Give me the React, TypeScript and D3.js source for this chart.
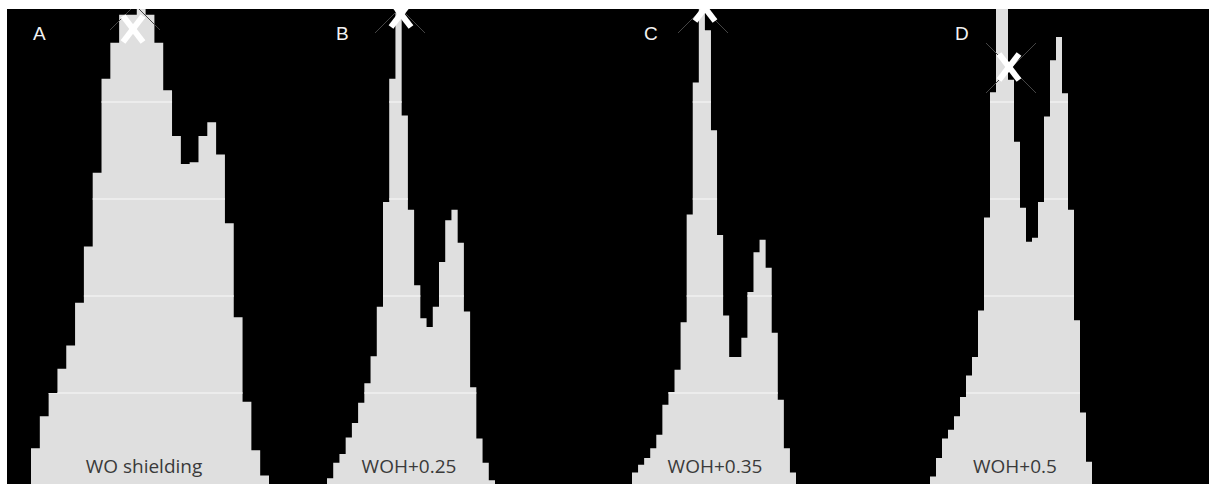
import React from "react";
import * as d3 from "d3";

// histogram heights per bin (frequency, same 27 bins in every panel)
const binsA = [4.3, 7.6, 10.0, 12.5, 14.9, 19.3, 25.1, 32.7, 42.4, 46.1, 49.0, 49.0, 51.0, 49.0, 46.1, 41.2, 36.5, 33.6, 33.8, 36.5, 37.9, 34.6, 27.5, 17.8, 9.1, 4.1, 1.5];
const binsB = [1.2, 2.8, 3.7, 5.4, 6.9, 9.0, 11.0, 13.8, 18.9, 29.7, 42.4, 58.0, 38.6, 28.9, 21.1, 17.7, 16.8, 18.9, 23.5, 27.8, 28.9, 25.5, 18.4, 10.6, 5.3, 2.8, 1.0];
const binsC = [1.8, 2.6, 3.3, 4.3, 5.7, 8.8, 10.1, 12.4, 17.3, 28.4, 42.0, 62.0, 47.4, 37.1, 26.3, 18.0, 13.7, 13.7, 15.7, 20.4, 24.5, 25.8, 22.9, 16.2, 9.3, 4.3, 1.8];
const binsD = [1.4, 3.3, 5.3, 6.2, 7.6, 9.6, 11.8, 13.7, 18.5, 28.1, 41.0, 56.0, 56.0, 42.3, 35.9, 29.1, 25.6, 26.0, 29.7, 38.5, 44.3, 46.7, 40.9, 28.9, 17.5, 8.0, 2.9];

const panelLetters = ["A", "B", "C", "D"];
const panelLabels = ["WO shielding", "WOH+0.25", "WOH+0.35", "WOH+0.5"];
const gridValues = [10, 20, 30, 40];

const W = 1209;
const H = 484;
const plot = { left: 7, top: 9 };

// where each small histogram sits in the figure
const layout = [
  { data: binsA, x0: 31, x1: 269, labelX: 144, letterX: 33, mark: [133, 29], cross: [135, 5] },
  { data: binsB, x0: 327, x1: 495, labelX: 409, letterX: 336, mark: [401, 14], cross: [400, 8] },
  { data: binsC, x0: 632, x1: 796, labelX: 715, letterX: 644, mark: [705, 8], cross: [703, 8] },
  { data: binsD, x0: 930, x1: 1092, labelX: 1015, letterX: 955, mark: [1009, 67], cross: [1011, 68] },
];

// bold white "X" marker drawn as two thick strokes
function Mark({ cx, cy }: { cx: number; cy: number }) {
  const dx = 10;
  const dy = 13;
  return (
    <g stroke="#ffffff" strokeWidth={6}>
      <line x1={cx - dx} y1={cy - dy} x2={cx + dx} y2={cy + dy} />
      <line x1={cx + dx} y1={cy - dy} x2={cx - dx} y2={cy + dy} />
    </g>
  );
}

export default function App() {
  const y = d3.scaleLinear().domain([0, 50]).range([490, 5]);

  return (
    <div>
      <style>{`body{margin:0}`}</style>
      <svg width={W} height={H} style={{ display: "block" }}>
        <defs>
          <clipPath id="plotClip">
            <rect x={plot.left} y={plot.top} width={W - plot.left} height={H - plot.top} />
          </clipPath>
        </defs>
        <rect x={0} y={0} width={W} height={H} fill="#ffffff" />
        <rect x={plot.left} y={plot.top} width={W - plot.left} height={H - plot.top} fill="#000000" />

        <g clipPath="url(#plotClip)">
          {layout.map((p, k) => {
            const x = d3.scaleLinear().domain([0, p.data.length]).range([p.x0, p.x1]);
            const pts = [...p.data, p.data[p.data.length - 1]];
            const area = d3
              .area<number>()
              .x((d, i) => x(i))
              .y0(y(0))
              .y1((d) => y(d))
              .curve(d3.curveStepAfter);
            const d = area(pts) || "";
            return (
              <g key={k}>
                <clipPath id={"hist" + k}>
                  <path d={d} />
                </clipPath>
                <path d={d} fill="#dfdfdf" />
                <g clipPath={`url(#hist${k})`}>
                  {gridValues.map((g) => (
                    <line key={g} x1={p.x0} x2={p.x1} y1={y(g)} y2={y(g)} stroke="#f1f1f1" strokeWidth={1.5} />
                  ))}
                </g>
                <g stroke="#454545" strokeWidth={1}>
                  <line x1={p.cross[0] - 25} y1={p.cross[1] - 25} x2={p.cross[0] + 25} y2={p.cross[1] + 25} />
                  <line x1={p.cross[0] + 25} y1={p.cross[1] - 25} x2={p.cross[0] - 25} y2={p.cross[1] + 25} />
                </g>
                <Mark cx={p.mark[0]} cy={p.mark[1]} />
              </g>
            );
          })}
        </g>

        {layout.map((p, k) => (
          <g key={"t" + k}>
            <text x={p.letterX} y={40} fontFamily="Liberation Sans, Arial, sans-serif" fontSize={19} fill="#f2f2f2">
              {panelLetters[k]}
            </text>
            <text x={p.labelX} y={473} textAnchor="middle" fontFamily="Open Sans, sans-serif" fontSize={19} fill="#3a3a3a">
              {panelLabels[k]}
            </text>
          </g>
        ))}
      </svg>
    </div>
  );
}
